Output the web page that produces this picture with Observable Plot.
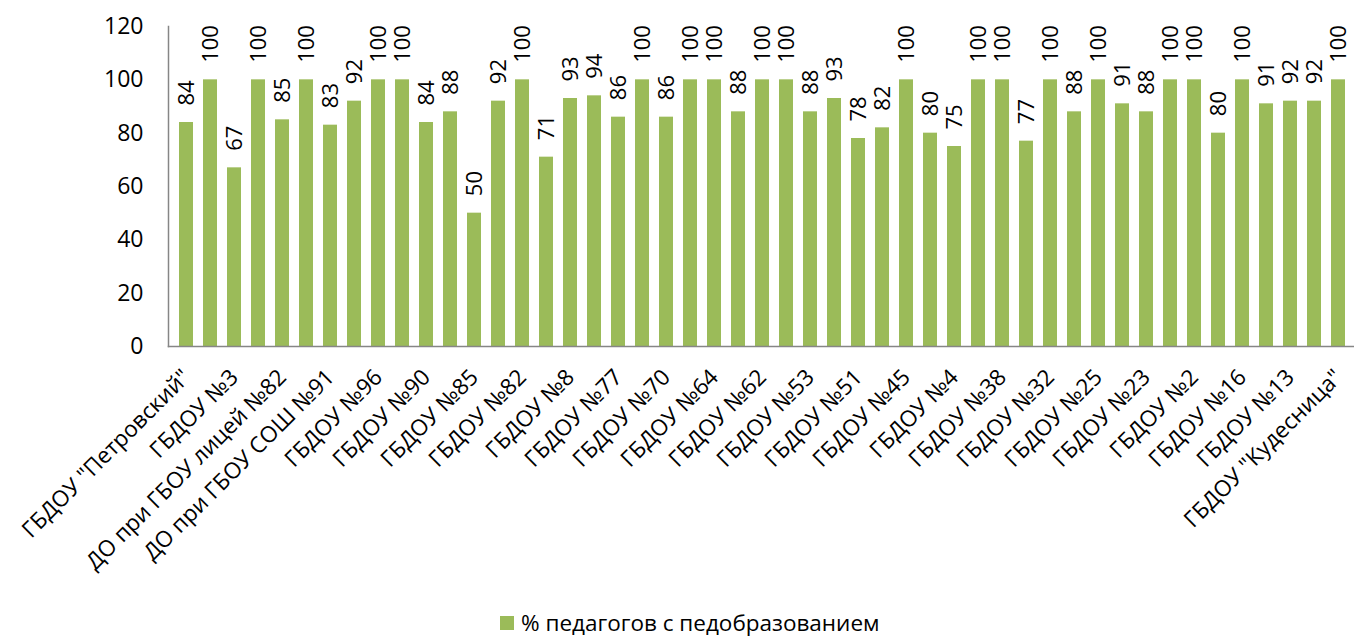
<!DOCTYPE html>
<html><head><meta charset="utf-8">
<script src="https://cdn.jsdelivr.net/npm/d3@7"></script>
<script src="https://cdn.jsdelivr.net/npm/@observablehq/plot@0.6"></script>
<style>
html,body{margin:0;padding:0;background:#fff;overflow:hidden;}
body{font-family:"Open Sans",sans-serif;color:#000;}
#legend{height:33px;display:flex;align-items:center;padding-left:500px;font-size:22.5px;line-height:30px;}
#legend .sw{width:14px;height:14px;background:#9BBB59;margin-right:7px;}
</style></head>
<body>
<div id="chart"></div>
<div id="legend"><span class="sw"></span><span id="legendText"></span></div>
<script>
const values = [84,100,67,100,85,100,83,92,100,100,84,88,50,92,100,71,
  93,94,86,100,86,100,100,88,100,100,88,93,78,82,100,80,75,
  100,100,77,100,88,100,91,88,100,100,80,100,91,92,92,100];
const shownLabels = ['ГБДОУ "Петровский"','ГБДОУ №3','ДО при ГБОУ лицей №82','ДО при ГБОУ СОШ №91',
  'ГБДОУ №96','ГБДОУ №90','ГБДОУ №85','ГБДОУ №82','ГБДОУ №8','ГБДОУ №77','ГБДОУ №70','ГБДОУ №64',
  'ГБДОУ №62','ГБДОУ №53','ГБДОУ №51','ГБДОУ №45','ГБДОУ №4','ГБДОУ №38','ГБДОУ №32','ГБДОУ №25',
  'ГБДОУ №23','ГБДОУ №2','ГБДОУ №16','ГБДОУ №13','ГБДОУ "Кудесница"'];
const yTicks = [0,20,40,60,80,100,120];
const seriesName = "% педагогов с педобразованием";
const barColor = "#9BBB59";

const data = values.map((v,i)=>({i, v}));

const plot = Plot.plot({
  width: 1354, height: 606,
  marginLeft: 168, marginRight: -3, marginTop: 26, marginBottom: 260,
  style: {fontFamily: '"Open Sans", sans-serif', background: "white", overflow: "visible", color: "#000"},
  x: {domain: d3.range(values.length), paddingInner: 0.4, paddingOuter: 0.2, axis: null},
  y: {domain: [0,120], axis: null},
  marks: [
    Plot.barY(data, {x: "i", y: "v", fill: barColor}),
    Plot.frame({anchor: "left", stroke: "#868686", strokeWidth: 1.5}),
    Plot.frame({anchor: "bottom", stroke: "#868686", strokeWidth: 1.5}),
    Plot.axisY({ticks: yTicks, tickSize: 0, tickPadding: 25, fontSize: 23, tickFormat: d => String(d), label: null}),
    Plot.axisX({tickSize: 0, tickPadding: 27, tickRotate: -45, fontSize: 22.5,
      tickFormat: i => i % 2 === 0 ? shownLabels[i/2] : "", label: null}),
    Plot.text(data, {x: "i", y: "v", text: d => String(d.v), rotate: -90, textAnchor: "start",
      dy: -17, fontSize: 22, fill: "#000"})
  ]
});
document.getElementById("chart").appendChild(plot);
document.getElementById("legendText").textContent = seriesName;
</script>
</body></html>
